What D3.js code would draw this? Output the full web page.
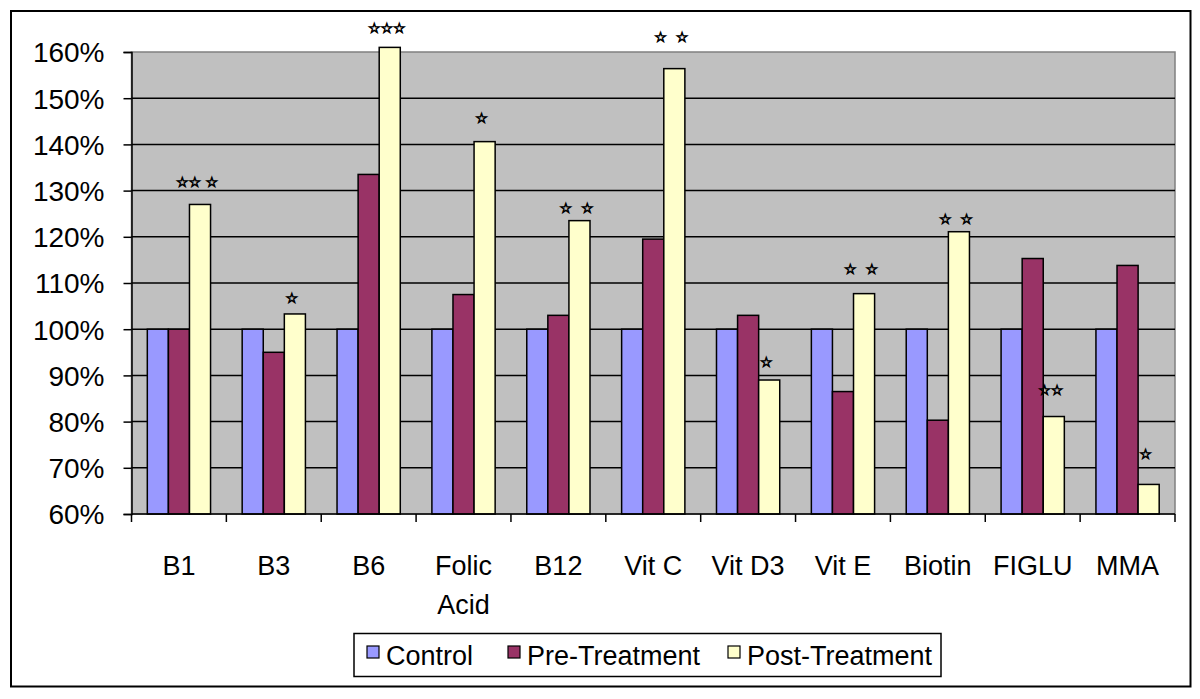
<!DOCTYPE html>
<html><head><meta charset="utf-8">
<script src="https://cdn.jsdelivr.net/npm/d3@7"></script>
<style>body{margin:0;background:#fff}text{font-family:"Liberation Sans",Arial,sans-serif}</style>
</head><body><svg id="c" width="1200" height="699"></svg>
<script>
const categories = ["B1","B3","B6","Folic Acid","B12","Vit C","Vit D3","Vit E","Biotin","FIGLU","MMA"];
const seriesNames = ["Control","Pre-Treatment","Post-Treatment"];
const seriesColors = ["#9999FF","#993366","#FFFFCC"];
const control = [100,100,100,100,100,100,100,100,100,100,100];
const preTreatment = [100,95,133.5,107.5,103,119.5,103,86.5,80.3,115.3,113.8];
const postTreatment = [127,103.3,161,140.6,123.5,156.4,89,107.7,121.1,81.1,66.4];
const starLabels = ["☆☆ ☆","☆","☆☆☆","☆","☆  ☆","☆  ☆","☆","☆  ☆","☆  ☆","☆☆","☆"];
const starLevels = [131.9,106.8,165.2,145.7,126.2,163.2,92.9,113.0,123.9,86.8,73.0];
const yTicks = [60,70,80,90,100,110,120,130,140,150,160];

const series = [control, preTreatment, postTreatment];
const svg = d3.select("#c");
const L = 131.5, R = 1175, T = 52, B = 514;

svg.append("rect").attr("x",11).attr("y",11).attr("width",1179.5).attr("height",675.5)
  .attr("fill","#fff").attr("stroke","#000").attr("stroke-width",2);

const x = d3.scaleBand().domain(categories).range([L,R]).padding(0);
const W = x.bandwidth();
const xi = d3.scaleBand().domain(d3.range(3)).range([W*0.75/4.5, W - W*0.75/4.5]).padding(0);
const y = d3.scaleLinear().domain([60,160]).range([B,T]);

svg.append("rect").attr("x",L).attr("y",T).attr("width",R-L).attr("height",B-T)
  .attr("fill","#C0C0C0").attr("stroke","#808080").attr("stroke-width",1.5);

svg.append("g").selectAll("line").data(yTicks.filter(v=>v>60 && v<160)).join("line")
  .attr("x1",L).attr("x2",R).attr("y1",d=>y(d)).attr("y2",d=>y(d))
  .attr("stroke","#000").attr("stroke-width",1.5);

const g = svg.append("g");
categories.forEach((c,i)=>{
  series.forEach((s,j)=>{
    g.append("rect").attr("x",x(c)+xi(j)).attr("width",xi.bandwidth())
      .attr("y",y(s[i])).attr("height",B-y(s[i]))
      .attr("fill",seriesColors[j]).attr("stroke","#000").attr("stroke-width",1.5);
  });
});

svg.append("g").selectAll("text").data(categories).join("text")
  .attr("x",(c)=>x(c)+xi(2)+xi.bandwidth()/2-3)
  .attr("y",(c,i)=>y(starLevels[i]))
  .attr("text-anchor","middle").attr("dominant-baseline","central")
  .style("white-space","pre").attr("xml:space","preserve")
  .style("font-family","'DejaVu Sans'").attr("font-size",14)
  .attr("fill","#000").attr("stroke","#000").attr("stroke-width",0.9)
  .text((c,i)=>starLabels[i]);

const ya = svg.append("g").attr("transform",`translate(${L},0)`)
  .call(d3.axisLeft(y).tickValues(yTicks).tickSize(8).tickPadding(19).tickFormat(d=>d+"%"));
ya.select(".domain").attr("stroke","#000").attr("stroke-width",1.5);
ya.selectAll(".tick line").attr("stroke","#000").attr("stroke-width",1.5);
ya.selectAll("text").attr("font-size",28).attr("fill","#000").style("font-family","'Liberation Sans'").attr("dy","0.35em");

const xa = svg.append("g").attr("transform",`translate(0,${B})`);
xa.append("line").attr("x1",L).attr("x2",R).attr("stroke","#000").attr("stroke-width",1.5);
xa.selectAll(".tk").data(d3.range(categories.length+1)).join("line").attr("class","tk")
  .attr("x1",i=>L+i*W).attr("x2",i=>L+i*W).attr("y1",0).attr("y2",8)
  .attr("stroke","#000").attr("stroke-width",1.5);
categories.forEach(c=>{
  const t = xa.append("text").attr("x",x(c)+W/2).attr("y",61).attr("text-anchor","middle")
    .attr("font-size",27).attr("fill","#000");
  t.text(c);
  if (t.node().getComputedTextLength() > W-4) {
    t.text(null);
    c.split(" ").forEach((w,k)=>t.append("tspan").attr("x",x(c)+W/2).attr("dy",k?39:0).text(w));
  }
});

const lg = svg.append("g");
lg.append("rect").attr("x",354).attr("y",633.5).attr("width",587).attr("height",43)
  .attr("fill","#fff").attr("stroke","#000").attr("stroke-width",1.5);
const itemX = [367,508,728];
seriesNames.forEach((n,j)=>{
  lg.append("rect").attr("x",itemX[j]).attr("y",646).attr("width",12).attr("height",12)
    .attr("fill",seriesColors[j]).attr("stroke","#000").attr("stroke-width",1.2);
  lg.append("text").attr("x",itemX[j]+19).attr("y",665).attr("font-size",27).attr("fill","#000").text(n);
});
</script></body></html>
